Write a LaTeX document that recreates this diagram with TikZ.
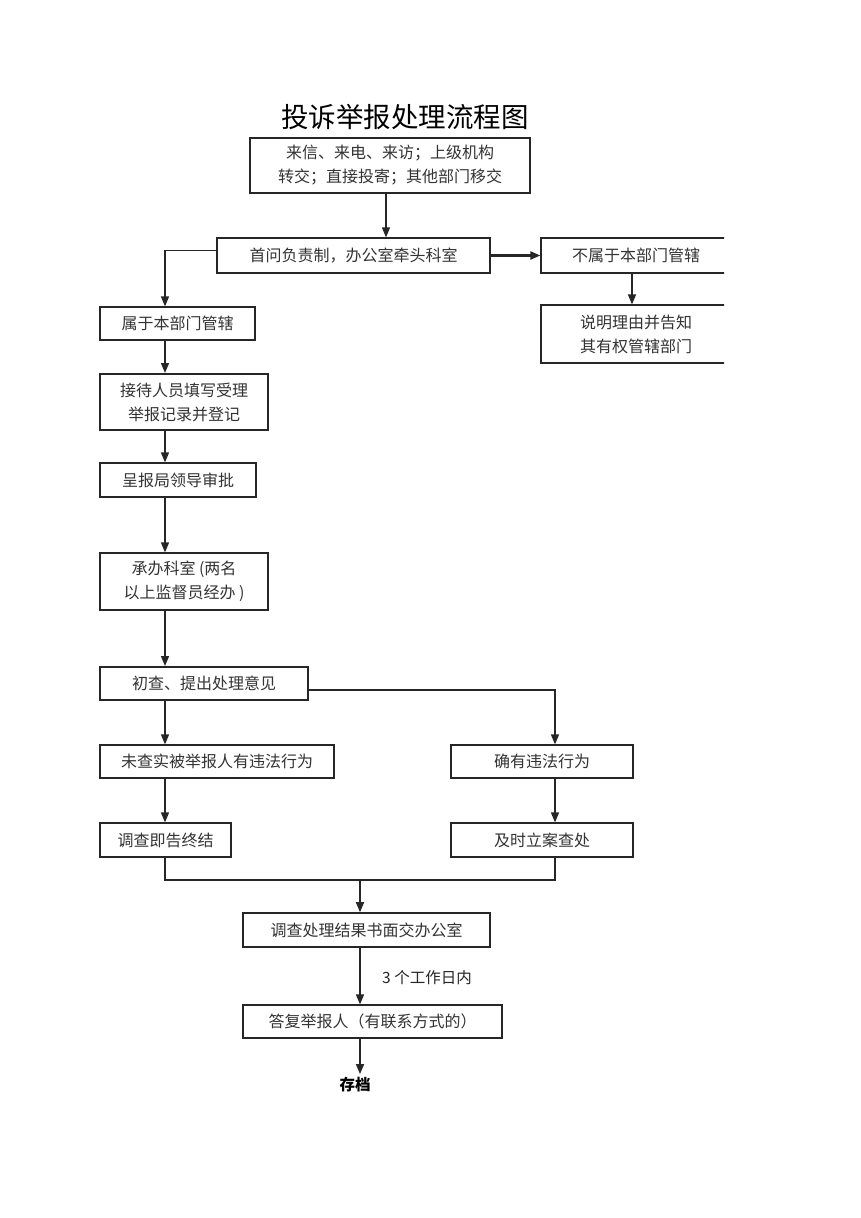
\documentclass[tikz,border=0pt]{standalone}
\usepackage{fontspec}
\setmainfont{Noto Sans CJK SC}
\usetikzlibrary{arrows.meta,calc}
\begin{document}
\begin{tikzpicture}[x=1pt,y=-1pt,
  box/.style={draw=black!85,line width=1.2pt,inner sep=0pt,align=center,font=\fontsize{16}{24}\selectfont,text=black!80},
  thick box/.style={box,line width=2pt},
  arr/.style={draw=black!85,line width=1.4pt,-{Triangle[length=10pt,width=8pt]}},
  ln/.style={draw=black!85,line width=1.2pt}]
\useasboundingbox[fill=white] (0,0) rectangle (860,1218);
\node[font=\fontsize{27.5}{30}\selectfont] (title) at (405,117) {投诉举报处理流程图};
\node[thick box,minimum width=280,minimum height=55] (b1) at (390,165.5) {来信、来电、来访；上级机构\\转交；直接投寄；其他部门移交};
\node[box,minimum width=273,minimum height=35] (b2) at (353.5,255.5) {首问负责制，办公室牵头科室};
\begin{scope}
\clip (0,0) rectangle (724,1218);
\node[box,minimum width=190,minimum height=35,text width=183,align=center] (b3) at (636,255.5) {不属于本部门管辖};
\node[box,minimum width=190,minimum height=58,text width=183,align=center] (b4) at (636,334) {说明理由并告知\\其有权管辖部门};
\end{scope}
\node[box,minimum width=155,minimum height=33] (b5) at (177.5,323.5) {属于本部门管辖};
\node[thick box,minimum width=168,minimum height=56] (b6) at (184,402) {接待人员填写受理\\举报记录并登记};
\node[box,minimum width=156,minimum height=34] (b7) at (178,480) {呈报局领导审批};
\node[box,minimum width=168,minimum height=57] (b8) at (184,581.5) {承办科室 (两名\\以上监督员经办 )};
\node[thick box,minimum width=208,minimum height=33] (b9) at (204,683.5) {初查、提出处理意见};
\node[box,minimum width=234,minimum height=33] (b10) at (217,761.5) {未查实被举报人有违法行为};
\node[box,minimum width=182,minimum height=33] (b11) at (542,761.5) {确有违法行为};
\node[box,minimum width=131,minimum height=34] (b12) at (165.5,840) {调查即告终结};
\node[box,minimum width=182,minimum height=34] (b13) at (542,840) {及时立案查处};
\node[box,line width=1.6pt,minimum width=247,minimum height=34] (b14) at (366.5,930) {调查处理结果书面交办公室};
\node[box,minimum width=259,minimum height=33] (b15) at (372.5,1021.5) {答复举报人（有联系方式的）};
\node[font=\fontsize{15.5}{18}\selectfont,text=black!85] (lbl) at (427,978) {3 个工作日内};
\node[font=\fontsize{15.5}{18}\selectfont\bfseries] (end) at (355,1085) {存档};
\coordinate (lx) at (165,0);
\coordinate (rx) at (555,0);
\coordinate (mx) at (360,0);
\coordinate (tx) at (386,0);
\coordinate (join) at (0,880);
\draw[arr] (b1.south -| tx) -- (b2.north -| tx);
\draw[arr,line width=2.2pt] (b2.east) -- (b3.west);
\draw[arr] (b3.south -| 632,0) -- (b4.north -| 632,0);
\draw[arr] ([yshift=5]b2.west) -| (b5.north -| lx);
\draw[arr] (b5.south -| lx) -- (b6.north -| lx);
\draw[arr] (b6.south -| lx) -- (b7.north -| lx);
\draw[arr] (b7.south -| lx) -- (b8.north -| lx);
\draw[arr] (b8.south -| lx) -- (b9.north -| lx);
\draw[arr] (b9.south -| lx) -- (b10.north -| lx);
\draw[arr] ([yshift=-6.5]b9.east) -| (b11.north -| rx);
\draw[arr] (b10.south -| lx) -- (b12.north -| lx);
\draw[arr] (b11.south -| rx) -- (b13.north -| rx);
\draw[ln] (b12.south -| lx) -- (join -| lx) -- (join -| rx) -- (b13.south -| rx);
\draw[arr] (join -| mx) -- (b14.north -| mx);
\draw[arr] (b14.south -| mx) -- (b15.north -| mx);
\draw[arr] (b15.south -| mx) -- (end.north -| mx);
\end{tikzpicture}
\end{document}
